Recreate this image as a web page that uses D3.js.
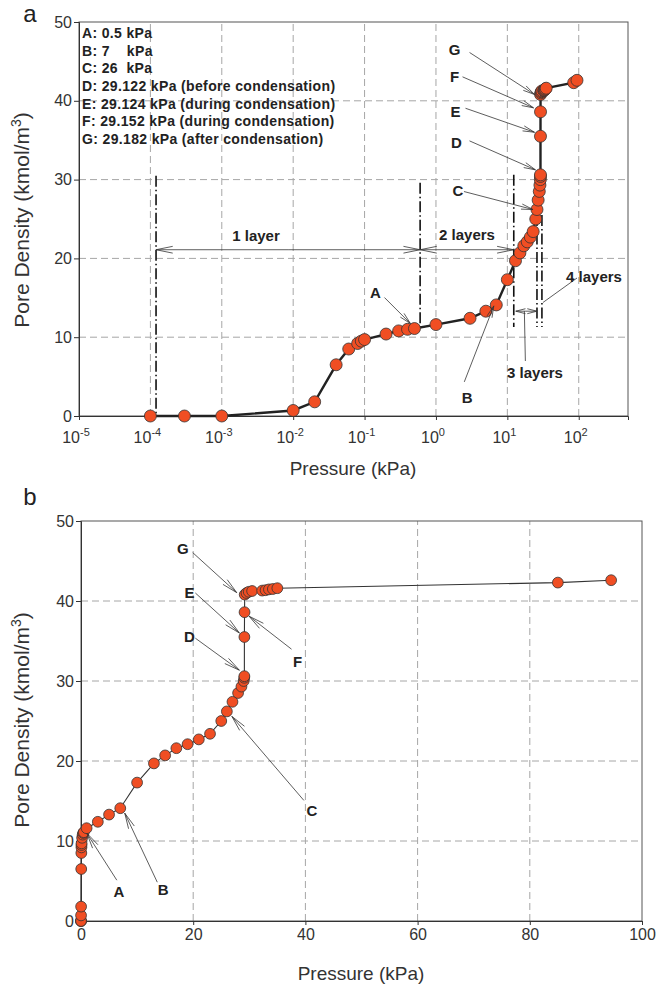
<!DOCTYPE html>
<html>
<head>
<meta charset="utf-8">
<script src="https://cdn.jsdelivr.net/npm/d3@7"></script>
<style>
  body { margin: 0; background: #fff; }
  svg { font-family: "Liberation Sans", Arial, sans-serif; }
</style>
</head>
<body>
<svg id="chart" width="668" height="990"></svg>
<script>
// pressure (kPa) and pore density (kmol/m3)
var pressure = [1e-4, 3e-4, 1e-3, 1e-2, 0.02, 0.04, 0.06, 0.08, 0.09, 0.1,
                0.2, 0.3, 0.4, 0.5, 1.0, 3.0, 5.0, 7.0, 10, 13,
                15, 17, 19, 21, 23, 25, 26, 27, 28, 28.6,
                29.0, 29.1, 29.122, 29.124, 29.152, 29.182, 29.5, 29.9, 30.5, 32.3,
                32.9, 33.5, 34.2, 35.0, 85, 94.5];
var density  = [0, 0, 0, 0.7, 1.8, 6.5, 8.5, 9.2, 9.5, 9.7,
                10.4, 10.8, 11.0, 11.1, 11.6, 12.4, 13.3, 14.1, 17.3, 19.7,
                20.7, 21.6, 22.1, 22.7, 23.4, 25.0, 26.2, 27.4, 28.5, 29.3,
                30.0, 30.4, 30.6, 35.5, 38.6, 40.8, 41.0, 41.15, 41.25, 41.3,
                41.35, 41.45, 41.5, 41.6, 42.3, 42.6];

var conditions = ["A: 0.5 kPa", "B: 7    kPa", "C: 26  kPa",
                  "D: 29.122 kPa (before condensation)",
                  "E: 29.124 kPa (during condensation)",
                  "F: 29.152 kPa (during condensation)",
                  "G: 29.182 kPa (after condensation)"];
var markedPressure = {A: 0.5, B: 7, C: 26, D: 29.122, E: 29.124, F: 29.152, G: 29.182};

var logTicks = [1e-5, 1e-4, 1e-3, 1e-2, 1e-1, 1e0, 1e1, 1e2];
var logExponents = ["-5", "-4", "-3", "-2", "-1", "0", "1", "2"];
var linTicks = [0, 20, 40, 60, 80, 100];
var yTicks = [0, 10, 20, 30, 40, 50];

// layer boundaries (kPa) in panel a and the density span of each dash-dot line
var layerBounds = [1.2e-4, 0.6, 12.3, 26, 30.5];
var layerSpans = [[0, 30.5], [11.3, 29.6], [11.3, 30.6], [11.3, 25.5], [11.3, 25.5]];

var points = pressure.map(function(p, i) { return {p: p, d: density[i]}; });
function pointOf(k) {
  return points.filter(function(d) { return d.p === markedPressure[k]; })[0];
}

var svg = d3.select("#chart");
var orange = "#f04e23";

// ---------- helpers ----------
function arrowHead(g, x1, y1, x2, y2, len, half) {
  var a = Math.atan2(y2 - y1, x2 - x1);
  [a + Math.PI - half, a + Math.PI + half].forEach(function(t) {
    g.append("line")
      .attr("x1", x2).attr("y1", y2)
      .attr("x2", x2 + len * Math.cos(t)).attr("y2", y2 + len * Math.sin(t))
      .attr("stroke", "#333").attr("stroke-width", 0.8);
  });
}
function arrow(g, x1, y1, x2, y2, len, half) {
  g.append("line")
    .attr("x1", x1).attr("y1", y1).attr("x2", x2).attr("y2", y2)
    .attr("stroke", "#333").attr("stroke-width", 0.8);
  arrowHead(g, x1, y1, x2, y2, len, half);
}

function frame(g, x, y, xTickVals, yTickVals) {
  var x0 = x.range()[0], x1 = x.range()[1], y0 = y.range()[0], y1 = y.range()[1];
  // grid
  g.append("g").selectAll("line.gx")
    .data(xTickVals.slice(1).filter(function(v) { return x(v) < x1 - 2; }))
    .enter().append("line")
      .attr("x1", function(d) { return x(d); }).attr("x2", function(d) { return x(d); })
      .attr("y1", y0).attr("y2", y1)
      .attr("stroke", "#a6a6a6").attr("stroke-dasharray", "7,4");
  g.append("g").selectAll("line.gy")
    .data(yTickVals.slice(1, -1))
    .enter().append("line")
      .attr("y1", function(d) { return y(d); }).attr("y2", function(d) { return y(d); })
      .attr("x1", x0).attr("x2", x1)
      .attr("stroke", "#a6a6a6").attr("stroke-dasharray", "7,4");
  // box
  g.append("rect")
    .attr("x", x0).attr("y", y1).attr("width", x1 - x0).attr("height", y0 - y1)
    .attr("fill", "none").attr("stroke", "#555").attr("stroke-width", 1);
  // y axis
  var ya = g.append("g").attr("transform", "translate(" + x0 + ",0)")
    .call(d3.axisLeft(y).tickValues(yTickVals).tickSize(5).tickPadding(2));
  ya.select(".domain").attr("stroke", "#333");
  ya.selectAll(".tick line").attr("stroke", "#333");
  ya.selectAll("text").attr("font-size", 16).attr("fill", "#333")
    .attr("font-family", "Liberation Sans, Arial, sans-serif");
}

var bold = function(g, x, y, t, size) {
  return g.append("text").attr("x", x).attr("y", y).attr("dy", "0.35em")
    .attr("text-anchor", "middle").attr("font-weight", "bold")
    .attr("font-size", size).attr("fill", "#222").text(t);
};

// ---------- panel a ----------
var xA = d3.scaleLog().domain([1e-5, Math.pow(10, 2.69)]).range([79, 628]);
var yA = d3.scaleLinear().domain([0, 50]).range([416, 22]);
var gA = svg.append("g");
frame(gA, xA, yA, logTicks, yTicks);

var xaA = gA.append("g").attr("transform", "translate(0," + yA(0) + ")")
  .call(d3.axisBottom(xA).tickValues(logTicks).tickSize(4).tickFormat(""));
xaA.select(".domain").attr("stroke", "#333");
xaA.selectAll(".tick line").attr("stroke", "#333");
var lab = gA.append("g").selectAll("text.lt")
  .data(logTicks).enter().append("text")
    .attr("x", function(d) { return xA(d) - 3; })
    .attr("y", 443)
    .attr("text-anchor", "middle")
    .attr("font-size", 16).attr("fill", "#333");
lab.append("tspan").text("10");
lab.append("tspan").attr("dy", -7).attr("font-size", 11)
  .text(function(d, i) { return logExponents[i]; });

// layer dividers
gA.append("g").selectAll("line.layer")
  .data(layerBounds).enter().append("line")
    .attr("x1", function(d) { return xA(d); }).attr("x2", function(d) { return xA(d); })
    .attr("y1", function(d, i) { return yA(layerSpans[i][1]); })
    .attr("y2", function(d, i) { return yA(layerSpans[i][0]); })
    .attr("stroke", "#111").attr("stroke-width", 1.6)
    .attr("stroke-dasharray", "11,3,1.5,3");

var lineA = d3.line().x(function(d) { return xA(d.p); }).y(function(d) { return yA(d.d); });
gA.append("path").datum(points).attr("d", lineA)
  .attr("fill", "none").attr("stroke", "#222").attr("stroke-width", 2.4);
gA.append("g").selectAll("circle").data(points).enter().append("circle")
  .attr("cx", function(d) { return xA(d.p); }).attr("cy", function(d) { return yA(d.d); })
  .attr("r", 6).attr("fill", orange).attr("stroke", "#333").attr("stroke-width", 0.8);

// layer arrows
var ann = gA.append("g");
var yLay = yA(21.1);
arrow(ann, (xA(layerBounds[0]) + xA(layerBounds[1])) / 2, yLay, xA(layerBounds[0]), yLay, 17, 0.2);
arrow(ann, (xA(layerBounds[0]) + xA(layerBounds[1])) / 2, yLay, xA(layerBounds[1]), yLay, 17, 0.2);
arrow(ann, (xA(layerBounds[1]) + xA(layerBounds[2])) / 2, yLay, xA(layerBounds[1]), yLay, 17, 0.2);
arrow(ann, (xA(layerBounds[1]) + xA(layerBounds[2])) / 2, yLay, xA(layerBounds[2]), yLay, 17, 0.2);
var y3 = yA(13.3), xm3 = (xA(layerBounds[2]) + xA(layerBounds[3])) / 2;
arrow(ann, xm3, y3, xA(layerBounds[2]) + 2, y3, 10, 0.25);
arrow(ann, xm3, y3, xA(layerBounds[3]), y3, 10, 0.25);
ann.append("line").attr("x1", xm3 - 1).attr("y1", y3).attr("x2", xm3).attr("y2", 361)
  .attr("stroke", "#333").attr("stroke-width", 0.8);
ann.append("line").attr("x1", 577).attr("y1", 278).attr("x2", xA(layerBounds[4]) + 1).attr("y2", yA(14.4))
  .attr("stroke", "#333").attr("stroke-width", 0.8);

bold(ann, 256, 236, "1 layer", 15);
bold(ann, 467, 235, "2 layers", 15);
bold(ann, 535, 373, "3 layers", 15);
bold(ann, 594, 277, "4 layers", 15);

// point labels, panel a: offsets from the marked point [label, line start, tip]
var notesA = [
  {k: "G", lab: [-86, -45], from: [-71, -42], tip: [-6, 0]},
  {k: "F", lab: [-86, -35], from: [-78, -35], tip: [-7, -4]},
  {k: "E", lab: [-85, -25], from: [-75, -28], tip: [-6, -4]},
  {k: "D", lab: [-84, -32], from: [-71, -34], tip: [-5, -5]},
  {k: "C", lab: [-79, -19], from: [-73, -18], tip: [-4, 0]},
  {k: "A", lab: [-39, -36], from: [-30, -31], tip: [-4, -5]},
  {k: "B", lab: [-29, 93], from: [-32, 77], tip: [-2.5, 1]}
];
notesA.forEach(function(n) {
  var pt = pointOf(n.k), px = xA(pt.p), py = yA(pt.d);
  arrow(ann, px + n.from[0], py + n.from[1], px + n.tip[0], py + n.tip[1], 12, 0.22);
  bold(ann, px + n.lab[0], py + n.lab[1], n.k, 15);
});

// condition list
gA.append("g").selectAll("text.cond").data(conditions).enter().append("text")
  .attr("x", 82).attr("y", function(d, i) { return 33 + i * 17.7; }).attr("dy", "0.35em")
  .attr("font-size", 14).attr("font-weight", "bold").attr("fill", "#222")
  .attr("letter-spacing", 0.35)
  .attr("xml:space", "preserve").style("white-space", "pre")
  .text(function(d) { return d; });

// titles
function yTitle(cy) {
  var t = svg.append("text")
    .attr("transform", "translate(29," + cy + ") rotate(-90)")
    .attr("text-anchor", "middle").attr("font-size", 21).attr("fill", "#333");
  t.append("tspan").text("Pore Density (kmol/m");
  t.append("tspan").attr("dy", -8).attr("font-size", 14).text("3");
  t.append("tspan").attr("dy", 8).text(")");
}
yTitle(220);
svg.append("text").attr("x", 353).attr("y", 475).attr("text-anchor", "middle")
  .attr("font-size", 19).attr("fill", "#333").text("Pressure (kPa)");
svg.append("text").attr("x", 30).attr("y", 22).attr("text-anchor", "middle")
  .attr("font-size", 24).attr("fill", "#222").text("a");

// ---------- panel b ----------
var xB = d3.scaleLinear().domain([0, 100]).range([81, 642]);
var yB = d3.scaleLinear().domain([0, 50]).range([921, 521]);
var gB = svg.append("g");
frame(gB, xB, yB, linTicks, yTicks);
var xaB = gB.append("g").attr("transform", "translate(0," + yB(0) + ")")
  .call(d3.axisBottom(xB).tickValues(linTicks).tickSize(4).tickPadding(4));
xaB.select(".domain").attr("stroke", "#333");
xaB.selectAll(".tick line").attr("stroke", "#333");
xaB.selectAll("text").attr("font-size", 16).attr("fill", "#333")
  .attr("font-family", "Liberation Sans, Arial, sans-serif");

var lineB = d3.line().x(function(d) { return xB(d.p); }).y(function(d) { return yB(d.d); });
gB.append("path").datum(points).attr("d", lineB)
  .attr("fill", "none").attr("stroke", "#333").attr("stroke-width", 1.1);
gB.append("g").selectAll("circle").data(points).enter().append("circle")
  .attr("cx", function(d) { return xB(d.p); }).attr("cy", function(d) { return yB(d.d); })
  .attr("r", 5.4).attr("fill", orange).attr("stroke", "#333").attr("stroke-width", 0.8);

var annB = gB.append("g");
var notesB = [
  {k: "G", lab: [-62, -46], from: [-52, -42], tip: [-8, -2]},
  {k: "E", lab: [-55, -44], from: [-49, -44], tip: [-5, -4]},
  {k: "D", lab: [-55, -39], from: [-49, -38], tip: [-5, -6]},
  {k: "F", lab: [53, 50], from: [47, 37], tip: [4.5, 4]},
  {k: "C", lab: [85, 99], from: [77, 89], tip: [5, 5]},
  {k: "B", lab: [43, 82], from: [37, 74], tip: [4.5, 5]},
  {k: "A", lab: [35, 60], from: [33, 48], tip: [3, 1]}
];
notesB.forEach(function(n) {
  var pt = pointOf(n.k), px = xB(pt.p), py = yB(pt.d);
  arrow(annB, px + n.from[0], py + n.from[1], px + n.tip[0], py + n.tip[1], 16, 0.2);
  bold(annB, px + n.lab[0], py + n.lab[1], n.k, 15);
});

yTitle(720);
svg.append("text").attr("x", 361).attr("y", 980).attr("text-anchor", "middle")
  .attr("font-size", 19).attr("fill", "#333").text("Pressure (kPa)");
svg.append("text").attr("x", 30).attr("y", 505).attr("text-anchor", "middle")
  .attr("font-size", 24).attr("fill", "#222").text("b");
</script>
</body>
</html>
